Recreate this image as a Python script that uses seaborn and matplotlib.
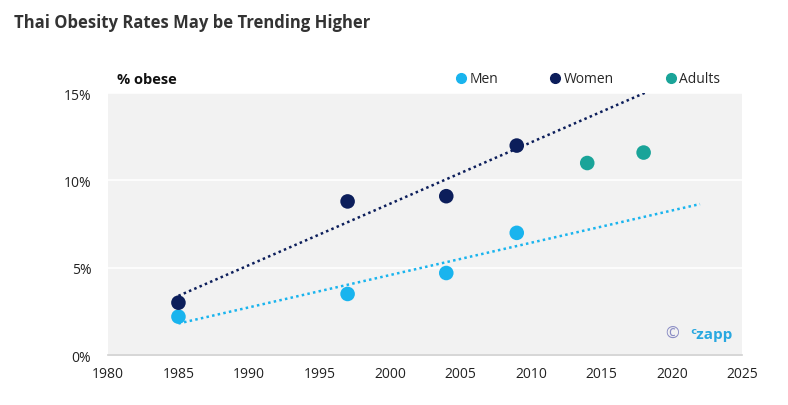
import numpy as np
import pandas as pd
import matplotlib.pyplot as plt
import seaborn as sns

# data
men_years = [1985, 1997, 2004, 2009]
men_rate = [2.2, 3.5, 4.7, 7.0]
women_years = [1985, 1997, 2004, 2009]
women_rate = [3.0, 8.8, 9.1, 12.0]
adult_years = [2014, 2018]
adult_rate = [11.0, 11.6]
trend_end = 2022

colors = {'Men': '#19B4EE', 'Women': '#0C1E5B', 'Adults': '#1AA499'}

df = pd.concat([
    pd.DataFrame({'year': men_years, 'rate': men_rate, 'group': 'Men'}),
    pd.DataFrame({'year': women_years, 'rate': women_rate, 'group': 'Women'}),
    pd.DataFrame({'year': adult_years, 'rate': adult_rate, 'group': 'Adults'}),
])

sns.set_style('white')
plt.rcParams['font.family'] = ['Open Sans', 'DejaVu Sans']

fig = plt.figure(figsize=(7.88, 4.06), dpi=100)
ax = fig.add_axes([0.137, 0.123, 0.805, 0.645])
ax.set_facecolor('#F2F2F2')

# linear trendlines forecast forward
for name, xs, ys in [('Men', men_years, men_rate), ('Women', women_years, women_rate)]:
    k, b = np.polyfit(xs, ys, 1)
    tx = np.linspace(xs[0], trend_end, 50)
    ax.plot(tx, k * tx + b, linestyle=(0, (1, 1.3)), color=colors[name], lw=1.8, zorder=2)

sns.scatterplot(data=df, x='year', y='rate', hue='group', palette=colors,
                s=110, edgecolor='none', ax=ax, zorder=3, legend=False)

ax.set_xlim(1980, 2025)
ax.set_ylim(0, 15)
ax.set_xticks(range(1980, 2026, 5))
ax.set_yticks([0, 5, 10, 15])
ax.set_yticklabels(['0%', '5%', '10%', '15%'])
ax.yaxis.grid(True, color='white', lw=1.2)
ax.set_axisbelow(True)
ax.tick_params(axis='both', length=0, labelsize=10, colors='#222222', pad=8)
ax.tick_params(axis='y', pad=12)
for side in ['top', 'right', 'left']:
    ax.spines[side].set_visible(False)
ax.spines['bottom'].set_color('#D0D0D0')
ax.spines['bottom'].set_linewidth(1.2)
ax.set_xlabel('')
ax.set_ylabel('')

# legend row above the plot
handles = [plt.Line2D([], [], marker='o', ls='none', color=colors[g], markersize=7)
           for g in ['Men', 'Women', 'Adults']]
fig.legend(handles, ['Men', 'Women', 'Adults'], loc='center', bbox_to_anchor=(0.745, 0.803),
           ncol=3, frameon=False, handletextpad=0.1, columnspacing=3.6, fontsize=10,
           handlelength=1)

fig.text(0.148, 0.793, '% obese', fontsize=10.5, fontweight='bold', color='#111111')
fig.text(0.018, 0.93, 'Thai Obesity Rates May be Trending Higher', fontsize=12,
         fontweight='bold', color='#333333')
ax.text(0.9, 0.08, '©', transform=ax.transAxes, ha='right', va='center',
        fontsize=12, color='#8A8CC4')
ax.text(0.985, 0.08, 'ᶜzapp', transform=ax.transAxes, ha='right', va='center',
        fontsize=11, color='#29A8E0', fontweight='bold')

fig.savefig('out.png', dpi=100)
